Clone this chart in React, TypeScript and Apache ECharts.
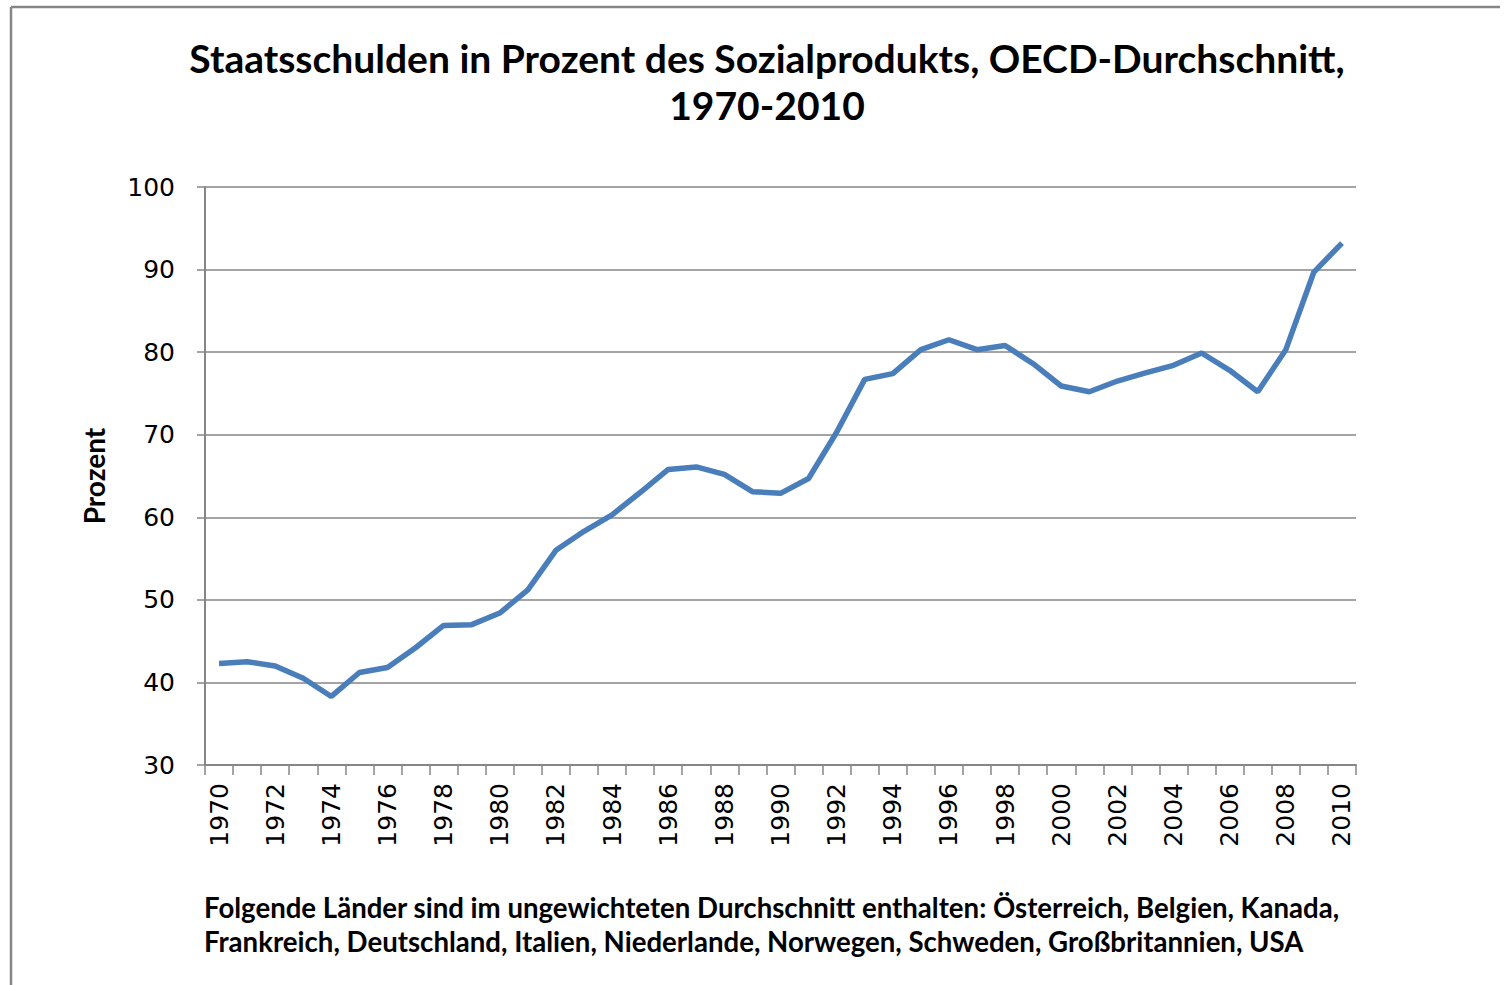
import React, { useEffect, useRef } from "react";
import * as echarts from "echarts";

const years: string[] = [];
for (let y = 1970; y <= 2010; y++) years.push(String(y));

const debtPercent = [
  42.3, 42.5, 42.0, 40.5, 38.3, 41.2, 41.8, 44.2, 46.9, 47.0,
  48.4, 51.2, 56.0, 58.3, 60.3, 63.0, 65.8, 66.1, 65.2, 63.1,
  62.9, 64.7, 70.3, 76.7, 77.4, 80.3, 81.5, 80.3, 80.8, 78.6,
  75.9, 75.2, 76.5, 77.5, 78.4, 79.9, 77.8, 75.2, 80.3, 89.7,
  93.2,
];

const yTicks = { min: 30, max: 100, interval: 10 };

const titleLines = [
  "Staatsschulden in Prozent des Sozialprodukts, OECD-Durchschnitt,",
  "1970-2010",
];
const footLines = [
  "Folgende Länder sind im ungewichteten Durchschnitt enthalten: Österreich, Belgien, Kanada,",
  "Frankreich, Deutschland, Italien, Niederlande, Norwegen, Schweden, Großbritannien, USA",
];

export default function App() {
  const ref = useRef<HTMLDivElement>(null);
  useEffect(() => {
    if (!ref.current) return;
    const chart = echarts.init(ref.current, null, { renderer: "svg" });
    const gray = "#868686";
    const boldFont = "Lato, 'Open Sans', sans-serif";
    chart.setOption({
      animation: false,
      backgroundColor: "#ffffff",
      grid: { left: 205, right: 154, top: 187, bottom: 220, containLabel: false },
      xAxis: {
        type: "category",
        data: years,
        boundaryGap: true,
        axisLine: { lineStyle: { color: gray, width: 2 } },
        axisTick: { show: true, length: 10, interval: 0, lineStyle: { color: gray, width: 1.5 } },
        axisLabel: {
          interval: 1,
          rotate: 90,
          margin: 18,
          color: "#000",
          fontFamily: "'DejaVu Sans', sans-serif",
          fontSize: 25,
        },
        splitLine: { show: false },
      },
      yAxis: {
        type: "value",
        min: yTicks.min,
        max: yTicks.max,
        interval: yTicks.interval,
        name: "Prozent",
        nameLocation: "middle",
        nameGap: 97,
        nameRotate: 90,
        nameTextStyle: { fontFamily: boldFont, fontWeight: "bold", fontSize: 28, color: "#000" },
        axisLine: { show: true, lineStyle: { color: gray, width: 2 } },
        axisTick: { show: true, length: 8, lineStyle: { color: gray, width: 1.5 } },
        axisLabel: {
          margin: 30,
          color: "#000",
          fontFamily: "'DejaVu Sans', sans-serif",
          fontSize: 25,
        },
        splitLine: { show: true, lineStyle: { color: gray, width: 1.5 } },
      },
      series: [
        {
          type: "line",
          data: debtPercent,
          showSymbol: false,
          symbol: "none",
          lineStyle: { color: "#4a7ebb", width: 5.5 },
          z: 3,
        },
      ],
      graphic: [
        { type: "line", shape: { x1: 11, y1: 7, x2: 1500, y2: 7 }, style: { stroke: gray, lineWidth: 2.5 } },
        { type: "line", shape: { x1: 11, y1: 7, x2: 11, y2: 985 }, style: { stroke: gray, lineWidth: 2.5 } },
        {
          type: "text",
          x: 767,
          y: 81,
          style: {
            text: titleLines.join("\n"),
            textAlign: "center",
            textVerticalAlign: "middle",
            font: `bold 39px ${boldFont}`,
            lineHeight: 47,
            fill: "#000",
          },
        },
        {
          type: "text",
          x: 204,
          y: 924,
          style: {
            text: footLines.join("\n"),
            textAlign: "left",
            textVerticalAlign: "middle",
            font: `bold 27.6px ${boldFont}`,
            lineHeight: 34,
            fill: "#000",
          },
        },
      ],
    });
    return () => chart.dispose();
  }, []);
  return (
    <div
      ref={ref}
      style={{ position: "absolute", left: 0, top: 0, width: 1510, height: 985, background: "#fff" }}
    />
  );
}
